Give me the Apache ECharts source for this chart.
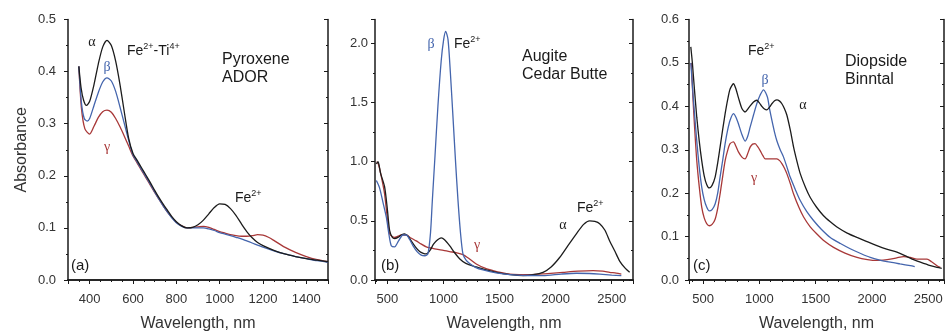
<!DOCTYPE html>
<html><head><meta charset="utf-8">
<script src="https://cdn.jsdelivr.net/npm/echarts@6/dist/echarts.min.js"></script>
<style>html,body{margin:0;padding:0;background:#fff}#c{width:946px;height:336px}</style>
</head><body><div id="c"></div>
<script>
// Panel (a) Pyroxene ADOR
const aAlpha = [[350,0.41],[360,0.37],[372,0.345],[385,0.335],[400,0.343],[420,0.375],[440,0.415],[460,0.447],[480,0.46],[500,0.45],[520,0.42],[540,0.375],[560,0.322],[580,0.272],[600,0.243],[620,0.229],[640,0.215],[660,0.201],[680,0.187],[700,0.172],[720,0.158],[740,0.145],[760,0.133],[780,0.121],[800,0.112],[825,0.104],[850,0.1],[875,0.101],[900,0.106],[925,0.115],[950,0.127],[975,0.139],[1000,0.146],[1025,0.145],[1050,0.137],[1075,0.124],[1100,0.108],[1125,0.093],[1150,0.081],[1175,0.072],[1200,0.066],[1250,0.057],[1300,0.05],[1350,0.045],[1400,0.041],[1450,0.038],[1500,0.035]];
const aBeta = [[350,0.41],[362,0.34],[375,0.31],[388,0.305],[400,0.31],[420,0.335],[440,0.36],[460,0.38],[480,0.388],[500,0.382],[520,0.362],[540,0.332],[560,0.3],[580,0.268],[600,0.24],[620,0.226],[640,0.212],[660,0.198],[680,0.184],[700,0.169],[720,0.155],[740,0.142],[760,0.13],[780,0.119],[800,0.11],[825,0.103],[850,0.1],[875,0.1],[900,0.1],[925,0.1],[950,0.098],[975,0.095],[1000,0.091],[1025,0.088],[1050,0.085],[1075,0.082],[1100,0.079],[1125,0.075],[1150,0.071],[1175,0.067],[1200,0.063],[1250,0.056],[1300,0.05],[1350,0.045],[1400,0.041],[1450,0.037],[1500,0.034]];
const aGamma = [[350,0.41],[362,0.33],[378,0.29],[400,0.28],[420,0.295],[440,0.312],[460,0.323],[480,0.326],[500,0.322],[520,0.31],[540,0.294],[560,0.276],[580,0.257],[600,0.238],[620,0.224],[640,0.21],[660,0.196],[680,0.182],[700,0.168],[720,0.155],[740,0.142],[760,0.13],[780,0.12],[800,0.111],[825,0.104],[850,0.1],[875,0.101],[900,0.102],[925,0.103],[950,0.101],[975,0.097],[1000,0.093],[1025,0.09],[1050,0.087],[1075,0.085],[1100,0.084],[1125,0.084],[1150,0.085],[1175,0.087],[1200,0.086],[1225,0.082],[1250,0.076],[1300,0.063],[1350,0.053],[1400,0.045],[1450,0.039],[1500,0.035]];

// Panel (b) Augite Cedar Butte
const bAlpha = [[402,0.98],[417,1.0],[440,0.9],[475,0.79],[500,0.6],[520,0.42],[545,0.36],[565,0.35],[595,0.36],[624,0.38],[654,0.39],[685,0.37],[713,0.33],[750,0.28],[788,0.24],[820,0.225],[847,0.22],[880,0.25],[910,0.3],[936,0.33],[965,0.35],[981,0.355],[1010,0.34],[1055,0.29],[1100,0.23],[1144,0.18],[1200,0.14],[1293,0.11],[1380,0.085],[1472,0.065],[1600,0.045],[1710,0.037],[1800,0.045],[1888,0.065],[1960,0.11],[2036,0.19],[2110,0.29],[2185,0.39],[2250,0.47],[2304,0.5],[2350,0.495],[2393,0.476],[2440,0.42],[2482,0.33],[2530,0.24],[2571,0.16],[2620,0.1],[2660,0.065]];
const bBeta = [[402,0.84],[430,0.78],[460,0.66],[491,0.53],[515,0.38],[535,0.29],[565,0.28],[600,0.33],[639,0.38],[669,0.38],[700,0.34],[728,0.29],[765,0.24],[802,0.21],[835,0.205],[862,0.22],[885,0.4],[901,0.67],[925,1.05],[951,1.47],[980,1.85],[1002,2.03],[1020,2.1],[1041,2.03],[1062,1.75],[1085,1.38],[1108,1.0],[1130,0.67],[1152,0.4],[1174,0.22],[1200,0.17],[1234,0.14],[1290,0.105],[1353,0.085],[1470,0.06],[1590,0.045],[1750,0.038],[1888,0.037],[2050,0.05],[2185,0.057],[2300,0.055],[2393,0.05],[2500,0.042],[2586,0.037]];
const bGamma = [[405,1.0],[420,0.98],[445,0.88],[475,0.73],[500,0.52],[520,0.39],[545,0.365],[565,0.36],[595,0.37],[624,0.38],[669,0.38],[710,0.355],[758,0.33],[800,0.305],[847,0.28],[890,0.27],[936,0.26],[1000,0.25],[1055,0.24],[1120,0.23],[1174,0.215],[1230,0.18],[1293,0.135],[1370,0.1],[1442,0.08],[1520,0.062],[1590,0.05],[1680,0.046],[1769,0.045],[1900,0.052],[2066,0.065],[2200,0.075],[2334,0.08],[2420,0.075],[2482,0.065],[2540,0.058],[2586,0.05]];

// Panel (c) Diopside Binntal
const cAlpha = [[391,0.537],[405,0.5],[420,0.45],[444,0.375],[466,0.32],[488,0.275],[510,0.24],[532,0.22],[555,0.212],[580,0.218],[607,0.237],[630,0.27],[651,0.306],[675,0.348],[696,0.383],[718,0.415],[740,0.44],[770,0.452],[792,0.44],[814,0.42],[845,0.395],[873,0.387],[910,0.398],[948,0.41],[977,0.414],[1000,0.408],[1022,0.4],[1045,0.394],[1067,0.392],[1090,0.398],[1111,0.406],[1135,0.413],[1156,0.415],[1180,0.412],[1200,0.406],[1222,0.395],[1244,0.38],[1275,0.345],[1304,0.306],[1335,0.272],[1363,0.245],[1410,0.213],[1452,0.19],[1510,0.167],[1570,0.148],[1630,0.134],[1689,0.122],[1780,0.108],[1867,0.098],[1950,0.089],[2044,0.079],[2130,0.071],[2222,0.064],[2311,0.054],[2370,0.047],[2430,0.041],[2519,0.033],[2578,0.029],[2620,0.027]];
const cBeta = [[391,0.5],[410,0.43],[425,0.38],[444,0.32],[466,0.26],[488,0.214],[510,0.185],[532,0.168],[555,0.159],[580,0.162],[607,0.175],[630,0.2],[651,0.237],[675,0.277],[696,0.314],[718,0.345],[740,0.368],[770,0.383],[792,0.375],[814,0.36],[845,0.335],[873,0.32],[895,0.33],[918,0.352],[948,0.38],[977,0.406],[1005,0.425],[1037,0.438],[1055,0.432],[1073,0.42],[1090,0.395],[1111,0.368],[1135,0.34],[1156,0.32],[1185,0.3],[1215,0.283],[1245,0.26],[1274,0.237],[1320,0.208],[1363,0.183],[1420,0.158],[1481,0.137],[1550,0.117],[1630,0.098],[1720,0.084],[1807,0.072],[1900,0.061],[1985,0.052],[2070,0.046],[2163,0.041],[2250,0.037],[2341,0.033],[2380,0.031]];
const cGamma = [[395,0.5],[410,0.42],[425,0.35],[444,0.275],[466,0.215],[488,0.168],[510,0.143],[532,0.13],[555,0.125],[580,0.128],[607,0.14],[630,0.165],[651,0.198],[675,0.24],[696,0.275],[718,0.298],[740,0.314],[770,0.318],[792,0.308],[814,0.295],[845,0.283],[873,0.279],[895,0.29],[918,0.306],[940,0.313],[962,0.314],[985,0.307],[1007,0.298],[1030,0.287],[1052,0.279],[1096,0.279],[1156,0.279],[1180,0.275],[1200,0.268],[1222,0.258],[1244,0.245],[1275,0.222],[1304,0.198],[1350,0.168],[1393,0.145],[1450,0.123],[1511,0.106],[1580,0.089],[1659,0.075],[1760,0.062],[1867,0.052],[1960,0.047],[2044,0.045],[2100,0.046],[2163,0.048],[2220,0.051],[2281,0.054],[2340,0.052],[2400,0.048],[2450,0.048],[2489,0.048],[2530,0.042],[2578,0.033],[2607,0.029]];

const panels = [
  {left:68, width:260, xMin:300, xMax:1500, xMinor:4, yMax:0.5, yInt:0.1, yLabMargin:12, data:[aAlpha,aBeta,aGamma], yName:'Absorbance'},
  {left:375, width:258, xMin:390, xMax:2690, xMinor:5, yMax:2.2, yInt:0.5, yLabMargin:7, data:[bAlpha,bBeta,bGamma], yName:''},
  {left:689, width:255, xMin:375, xMax:2640, xMinor:5, yMax:0.6, yInt:0.1, yLabMargin:10, data:[cAlpha,cBeta,cGamma], yName:''}
];
const colors = ['#1c1c1c','#4465ad','#a83838'];
const FONT = 'Liberation Sans';
const axisCol = '#1a1a1a';
const txtCol = '#333';

const grid=[], xAxis=[], yAxis=[], series=[];
panels.forEach((p,i)=>{
  grid.push({left:p.left, width:p.width, top:19.5, height:260.5, containLabel:false, outerBoundsMode:'none'});
  const xBase = {type:'value', gridIndex:i, min:p.xMin, max:p.xMax, splitLine:{show:false},
    axisLine:{lineStyle:{color:axisCol,width:1.5}}};
  xAxis.push(Object.assign({}, xBase, {position:'bottom',
    axisTick:{length:4, lineStyle:{color:axisCol}},
    minorTick:{show:true, splitNumber:p.xMinor, length:2, lineStyle:{color:axisCol}},
    axisLabel:{showMinLabel:false, showMaxLabel:false, margin:13, fontSize:13, fontFamily:FONT, color:txtCol, formatter:v=>String(v)},
    name:'Wavelength, nm', nameLocation:'middle', nameGap:36, nameTextStyle:{fontSize:16, fontFamily:FONT, color:txtCol}}));
  xAxis.push(Object.assign({}, xBase, {position:'top',
    axisTick:{inside:true, length:4, lineStyle:{color:axisCol}},
    minorTick:{show:true, splitNumber:p.xMinor, length:2, lineStyle:{color:axisCol}},
    axisLabel:{show:false}}));
  const yBase = {type:'value', gridIndex:i, min:0, max:p.yMax, interval:p.yInt, splitLine:{show:false},
    axisLine:{show:true, lineStyle:{color:axisCol,width:1.5}}};
  yAxis.push(Object.assign({}, yBase, {position:'left',
    axisTick:{length:4, lineStyle:{color:axisCol}},
    minorTick:{show:true, splitNumber:2, length:2, lineStyle:{color:axisCol}},
    axisLabel:{showMaxLabel: p.yMax===2.2 ? false : true, margin:p.yLabMargin, fontSize:13, fontFamily:FONT, color:txtCol,
      formatter:v=>v.toFixed(1)},
    name:p.yName, nameLocation:'middle', nameGap:38, nameTextStyle:{fontSize:16, fontFamily:FONT, color:txtCol}}));
  yAxis.push(Object.assign({}, yBase, {position:'right',
    axisTick:{inside:true, length:4, lineStyle:{color:axisCol}},
    minorTick:{show:true, splitNumber:2, length:2, lineStyle:{color:axisCol}},
    axisLabel:{show:false}}));
  const order = i===1 ? [2,0,1] : [2,1,0];
  order.forEach(k=>{
    series.push({type:'line', xAxisIndex:2*i, yAxisIndex:2*i, data:p.data[k], showSymbol:false, smooth:0.25,
      lineStyle:{color:colors[k], width:1.3}, animation:false, silent:true});
  });
});

function txt(x,y,text,opts){
  return Object.assign({type:'text', x:x, y:y, silent:true, style:Object.assign({text:text, fontFamily:FONT, fontSize:16, fill:'#1a1a1a', textVerticalAlign:'middle', textAlign:'left'}, opts||{})});
}
const supRich = {m:{fontSize:14, fontFamily:FONT, fill:'#1a1a1a', verticalAlign:'bottom', lineHeight:16},
                 s:{fontSize:9, fontFamily:FONT, fill:'#1a1a1a', verticalAlign:'top', lineHeight:16, padding:[0,0,0,0]}};
function fe(x,y,t){ return txt(x,y,t,{rich:supRich}); }
function greek(x,y,t,c){ return txt(x,y,t,{fontFamily:'Liberation Serif', fontSize:14, fill:c, textAlign:'center'}); }

const graphic = [
  greek(92,42,'α',colors[0]), fe(127,50,'{m|Fe}{s|2+}{m|-Ti}{s|4+}'),
  txt(222,60,'Pyroxene'), txt(222,78,'ADOR'),
  greek(107,67,'β',colors[1]), greek(107,147,'γ',colors[2]),
  fe(235,197,'{m|Fe}{s|2+}'), txt(71,266,'(a)',{fontSize:15}),

  greek(431,44,'β',colors[1]), fe(454,43,'{m|Fe}{s|2+}'),
  txt(522,57,'Augite'), txt(522,75,'Cedar Butte'),
  fe(577,207,'{m|Fe}{s|2+}'), greek(563,225,'α',colors[0]), greek(477,245,'γ',colors[2]),
  txt(381,266,'(b)',{fontSize:15}),

  fe(748,50,'{m|Fe}{s|2+}'), txt(845,62,'Diopside'), txt(845,80,'Binntal'),
  greek(765,80,'β',colors[1]), greek(803,105,'α',colors[0]), greek(754,178,'γ',colors[2]),
  txt(693,266,'(c)',{fontSize:15})
];

const chart = echarts.init(document.getElementById('c'), null, {renderer:'canvas'});
chart.setOption({animation:false, backgroundColor:'#fff', grid, xAxis, yAxis, series, graphic});
</script></body></html>
